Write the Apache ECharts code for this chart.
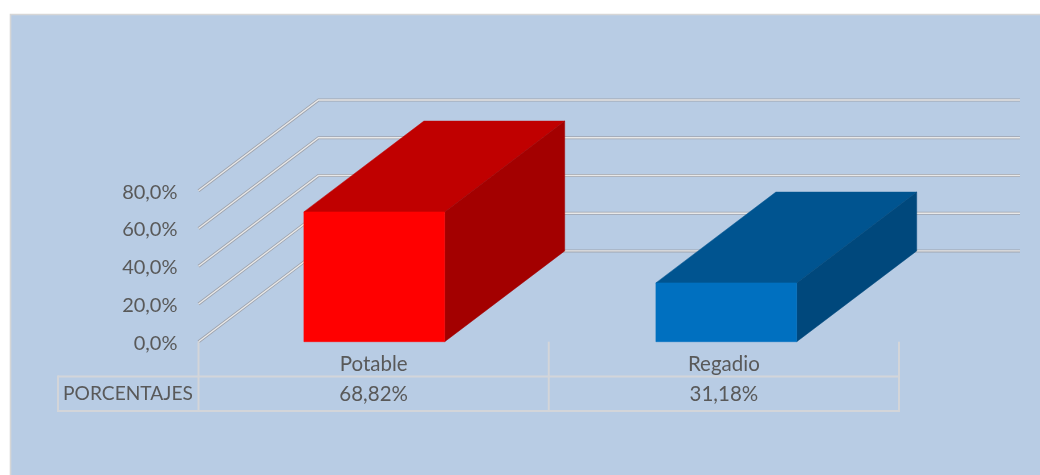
<!DOCTYPE html>
<html>
<head>
<meta charset="utf-8">
<style>html,body{margin:0;padding:0;background:#fff}#c{width:1040px;height:475px}</style>
<script src="https://cdn.jsdelivr.net/npm/echarts@6/dist/echarts.min.js"></script>
</head>
<body>
<div id="c"></div>
<script>
const categories = ['Potable', 'Regadio'];
const percentages = [68.82, 31.18];
const yTicks = [0, 20, 40, 60, 80];
const rowTitle = 'PORCENTAJES';
const frontColors = ['#ff0000', '#0070c0'];
const topColors = ['#c00000', '#005490'];
const sideColors = ['#a30000', '#00487c'];

const DX = 120, DY = -90.8;          // oblique projection of the chart's depth
const FONT = 'Lato, "Open Sans", sans-serif';
const TEXT = '#595959', TABLE = '#d3d5d9';
const ROW1 = 376.5, ROW2 = 411;      // data table horizontal rules

const fmtTick = v => '{t|' + v.toFixed(1).replace('.', ',') + '%}';
const fmtCell = v => v.toFixed(2).replace('.', ',') + '%';

function renderWall(params, api) {
  const p = api.coord([0, api.value(0)]);
  const x0 = params.coordSys.x, x1 = x0 + params.coordSys.width;
  const pts = [[x0, p[1]], [x0 + DX, p[1] + DY], [x1 + DX + 1, p[1] + DY]];
  return { type: 'group', children: [
    { type: 'polyline', shape: { points: pts }, style: { fill: 'none', stroke: '#9ea3ad', lineWidth: 3 } },
    { type: 'polyline', shape: { points: pts }, style: { fill: 'none', stroke: '#e8e8e8', lineWidth: 1.4 } }
  ]};
}

function renderBar(params, api) {
  const i = api.value(0);
  const w = api.size([1, 0])[0] * 0.4;
  const t = api.coord([i, api.value(1)]);
  const b = api.coord([i, 0]);
  const l = t[0] - w / 2, r = t[0] + w / 2;
  const poly = (points, fill) => ({
    type: 'polygon', shape: { points },
    style: { fill, stroke: fill, lineWidth: 0.5 }
  });
  return { type: 'group', children: [
    poly([[l, t[1]], [r, t[1]], [r + DX, t[1] + DY], [l + DX, t[1] + DY]], topColors[i]),
    poly([[r, t[1]], [r + DX, t[1] + DY], [r + DX, b[1] + DY], [r, b[1]]], sideColors[i]),
    poly([[l, t[1]], [r, t[1]], [r, b[1]], [l, b[1]]], frontColors[i])
  ]};
}

function renderTable(params, api) {
  const cs = params.coordSys;
  const x0 = cs.x, x1 = cs.x + cs.width, base = cs.y + cs.height;
  const ln = (a, b, c, d) => ({ type: 'line', shape: { x1: a, y1: b, x2: c, y2: d },
    style: { stroke: TABLE, lineWidth: 2 } });
  const txt = (x, s, size) => ({ type: 'text', style: { x, y: 394, text: s, fill: TEXT,
    font: size + 'px ' + FONT, align: 'center', verticalAlign: 'middle' } });
  const kids = [
    ln(58, ROW1, x1, ROW1), ln(58, ROW2, x1, ROW2), ln(58, ROW1 - 1, 58, ROW2 + 1),
    txt(128, rowTitle, 19.2)
  ];
  [0, 1, 2].forEach(k => {
    const x = x0 + (x1 - x0) * k / categories.length;
    kids.push(ln(x, base, x, ROW2 + 1));
  });
  percentages.forEach((v, i) => kids.push(txt(api.coord([i, 0])[0], fmtCell(v), 20.5)));
  return { type: 'group', children: kids };
}

const GRID_TOP = 190.8, GRID_H = 150.9, BOTTOM = 475 - GRID_TOP - GRID_H;

const chart = echarts.init(document.getElementById('c'), null, { renderer: 'canvas' });
chart.setOption({
  animation: false,
  graphic: [{ type: 'rect', z: -10, silent: true,
    shape: { x: 10.5, y: 14.5, width: 1100, height: 520 },
    style: { fill: '#b8cce4', stroke: '#d6d6d6', lineWidth: 1.6 } }],
  grid: [
    { left: 198.5, width: 700.5, top: GRID_TOP, bottom: BOTTOM },
    { left: 198.3, width: 704, top: GRID_TOP, bottom: BOTTOM }
  ],
  xAxis: [
    { type: 'category', gridIndex: 0, data: categories,
      axisLine: { show: false }, axisTick: { show: false },
      axisLabel: { color: TEXT, fontFamily: FONT, fontSize: 20.5, margin: 12 } },
    { type: 'category', gridIndex: 1, data: categories, show: false }
  ],
  yAxis: [
    { type: 'value', gridIndex: 0, min: 0, max: 80, interval: 20,
      axisLine: { show: false }, axisTick: { show: false }, splitLine: { show: false },
      axisLabel: { formatter: fmtTick, margin: 21,
        rich: { t: { color: TEXT, fontFamily: FONT, fontSize: 20, padding: [3, 0, 0, 0] } } } },
    { type: 'value', gridIndex: 1, min: 0, max: 80, interval: 20, show: false }
  ],
  series: [
    { type: 'custom', name: 'walls', xAxisIndex: 0, yAxisIndex: 0, z: 1, clip: false, silent: true,
      renderItem: renderWall, data: yTicks.map(v => [v]), encode: { y: 0 } },
    { type: 'custom', name: 'table', xAxisIndex: 0, yAxisIndex: 0, z: 2, clip: false, silent: true,
      renderItem: renderTable, data: [[0, 0]] },
    { type: 'custom', name: 'bars', xAxisIndex: 1, yAxisIndex: 1, z: 3, clip: false, silent: true,
      renderItem: renderBar, data: percentages.map((v, i) => [i, v]), encode: { x: 0, y: 1 } }
  ]
});
</script>
</body>
</html>
